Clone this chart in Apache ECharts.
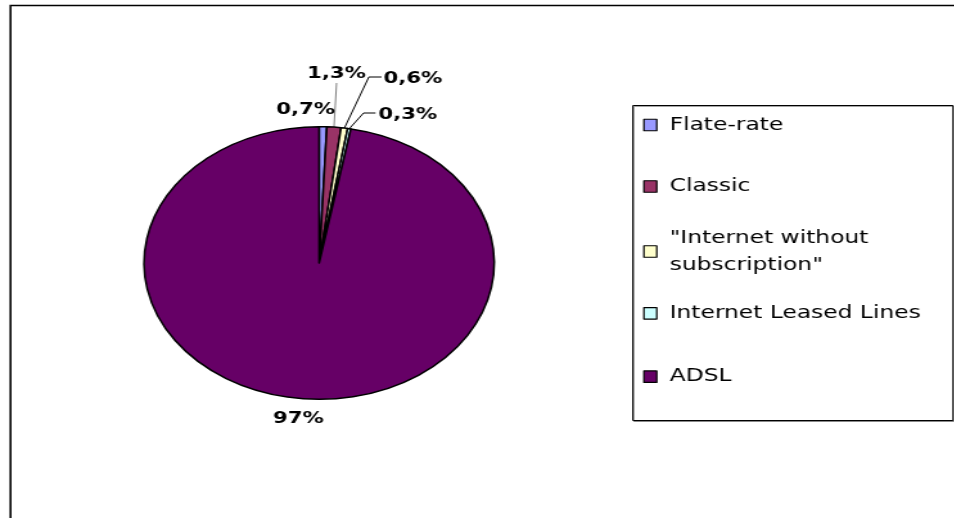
<!DOCTYPE html>
<html>
<head>
<meta charset="utf-8">
<script src="https://cdn.jsdelivr.net/npm/echarts@6/dist/echarts.min.js"></script>
<style>
  html, body { margin: 0; padding: 0; background: #fff; overflow: hidden; width: 954px; height: 518px; }
  #wrap { position: absolute; left: 0; top: 0; height: 518px; transform-origin: 0 0; }
</style>
</head>
<body>
<div id="wrap"></div>
<script>
// ---- data ----
const categories = ['Flate-rate', 'Classic', '"Internet without subscription"', 'Internet Leased Lines', 'ADSL'];
const values = [0.7, 1.3, 0.6, 0.3, 97];
const sliceColors = ['#9999FF', '#993366', '#FFFFCC', '#CCFFFF', '#660066'];

// ---- layout (horizontal stretch of the original picture) ----
const K = 1.283;
const W = 954 / K;
const wrap = document.getElementById('wrap');
wrap.style.width = W + 'px';
wrap.style.transform = 'scaleX(' + K + ')';

function fmt(v) {
  return (v >= 10 ? String(Math.round(v)) : v.toFixed(1).replace('.', ',')) + '%';
}

// label placement (unscaled coordinates)
const labelPlace = [
  { x: 238, y: 110, align: 'center', line: null },
  { x: 262, y: 74, align: 'center', line: 'vertical', lineY: 83 },
  { x: 298.5, y: 79, align: 'left', line: 'elbow', lineY: 77, bendX: 287.1, endX: 297 },
  { x: 294.6, y: 115, align: 'left', line: 'elbow', lineY: 113, bendX: 283, endX: 292.3 },
  { x: 232.3, y: 419, align: 'center', line: null }
];
const lineColors = ['#000', '#808080', '#000', '#000', '#000'];

const data = categories.map((name, i) => ({
  name: name,
  value: values[i],
  itemStyle: { color: sliceColors[i] },
  labelLine: { show: labelPlace[i].line !== null, lineStyle: { color: lineColors[i], width: 1 } }
}));

const legendCenters = [125, 186.5, 251.5, 313.3, 376.7];
const LH = 27;
const legends = categories.map((name, i) => {
  const multi = name.indexOf(' subscription') >= 0;
  return {
    data: [name],
    orient: 'vertical',
    left: 500.6,
    top: multi ? legendCenters[i] - LH * 1.5 : legendCenters[i] - LH / 2,
    padding: 0,
    itemWidth: 10,
    itemHeight: 11.5,
    selectedMode: false,
    icon: 'rect',
    itemStyle: { borderColor: '#000', borderWidth: 1.2 },
    formatter: n => n.replace(' subscription', '\nsubscription'),
    textStyle: {
      fontFamily: 'DejaVu Sans',
      fontSize: 18.2,
      color: '#000',
      lineHeight: LH,
      padding: multi ? [LH, 0, 0, 5] : [0, 0, 0, 5]
    }
  };
});

const chart = echarts.init(wrap, null, { width: W, height: 518, renderer: 'canvas' });
chart.setOption({
  animation: false,
  backgroundColor: '#fff',
  graphic: [
    { type: 'rect', shape: { x: 8.2, y: 5.5, width: 2000, height: 2000 }, style: { fill: 'none', stroke: '#000', lineWidth: 1.6 }, silent: true },
    { type: 'rect', shape: { x: 492.6, y: 105.5, width: 249.2, height: 315 }, style: { fill: '#fff', stroke: '#000', lineWidth: 1, shadowColor: 'rgba(0,0,0,0.35)', shadowOffsetY: 1, shadowOffsetX: 0.8 }, silent: true, z: -1 }
  ],
  legend: legends,
  series: [{
    type: 'pie',
    center: [248.4, 263],
    radius: [0, 136.3],
    startAngle: 90,
    clockwise: true,
    avoidLabelOverlap: false,
    silent: true,
    itemStyle: { borderColor: '#000', borderWidth: 1.5 },
    label: {
      show: true,
      position: 'outside',
      formatter: p => fmt(p.value),
      fontFamily: 'DejaVu Sans',
      fontWeight: 'bold',
      fontSize: 16.5,
      color: '#000'
    },
    labelLine: { show: true, length: 10, length2: 10 },
    labelLayout: function (params) {
      const lp = labelPlace[params.dataIndex];
      const out = { x: lp.x, y: lp.y, align: lp.align, verticalAlign: 'middle' };
      const p0 = params.labelLinePoints ? params.labelLinePoints[0] : null;
      if (p0 && lp.line === 'vertical') {
        out.labelLinePoints = [[p0[0], p0[1]], [p0[0] + 1, (p0[1] + lp.lineY) / 2], [p0[0] + 2, lp.lineY]];
      } else if (p0 && lp.line === 'elbow') {
        out.labelLinePoints = [[p0[0], p0[1]], [lp.bendX, lp.lineY], [lp.endX, lp.lineY]];
      }
      return out;
    },
    data: data
  }]
});
</script>
</body>
</html>
